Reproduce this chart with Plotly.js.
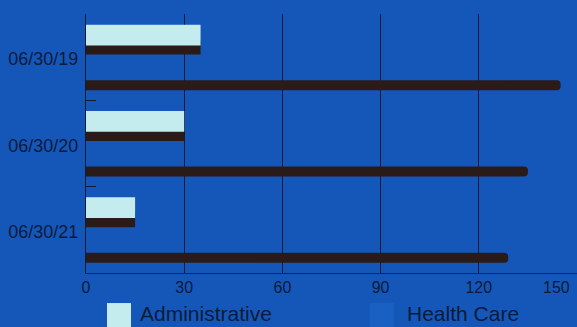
<!DOCTYPE html>
<html>
<head>
<meta charset="utf-8">
<script src="https://cdn.plot.ly/plotly-3.0.1.min.js"></script>
<style>
  html, body { margin: 0; padding: 0; background: #1457b9; }
  #chart { width: 577px; height: 327px; }
</style>
</head>
<body>
<div id="chart"></div>
<script>
// Fiscal year-end dates and amounts for each series
const dates = ['06/30/19', '06/30/20', '06/30/21'];
const administrative = [35, 30, 15];
const healthCare = [145, 135, 129];
const xTicks = [0, 30, 60, 90, 120, 150];
const legendNames = ['Administrative', 'Health Care'];

const BG = '#1457b9';
const INK = '#0d1a3a';
const LIGHT = '#c4ecee';
const DARK = '#2a1b18';

const traces = [
  // dark lower face under each Administrative bar
  {
    type: 'bar', orientation: 'h', y: dates, x: administrative,
    offset: -0.2, width: 0.17,
    marker: { color: DARK, line: { width: 0 } },
    hoverinfo: 'skip', showlegend: false
  },
  {
    type: 'bar', orientation: 'h', name: legendNames[0], y: dates, x: administrative,
    offset: -0.376, width: 0.24,
    marker: { color: LIGHT, line: { width: 0 } },
    showlegend: false
  },
  {
    type: 'bar', orientation: 'h', name: legendNames[1], y: dates, x: healthCare,
    offset: 0.266, width: 0.116,
    marker: { color: DARK, line: { width: 0 }, cornerradius: 4 },
    showlegend: false
  }
];

// the last tick sits on the right edge, so its label is right-aligned to stay inside
const innerTicks = xTicks.slice(0, -1);
const lastTick = xTicks[xTicks.length - 1];

// hand-placed legend row beneath the axis
const legendY0 = -0.116, legendY1 = -0.23;
const swatches = [
  { x0: 0.0428, x1: 0.0916, color: LIGHT },
  { x0: 0.578, x1: 0.627, color: '#1a5fc2' }
];
const legendTextX = [0.106, 0.65];

const annotations = legendNames.map((n, i) => ({
  xref: 'paper', yref: 'paper', x: legendTextX[i], y: -0.158,
  xanchor: 'left', yanchor: 'middle', showarrow: false,
  text: n, font: { size: 21, color: INK }
}));
annotations.push({
  xref: 'x', yref: 'paper', x: lastTick, y: 0, yshift: -4,
  xanchor: 'right', yanchor: 'top', xshift: -5, showarrow: false,
  text: String(lastTick), font: { size: 16, color: INK }
});

const layout = {
  width: 577, height: 327,
  margin: { l: 86, r: 0, t: 14, b: 54 },
  paper_bgcolor: BG, plot_bgcolor: BG,
  barmode: 'overlay',
  font: { family: 'Liberation Sans, Arial, sans-serif', color: INK },
  xaxis: {
    range: [0, lastTick], tickvals: xTicks,
    ticktext: xTicks.map(v => v === lastTick ? '' : String(v)),
    showgrid: true, gridcolor: '#141a30', gridwidth: 1,
    zeroline: false, showline: true, linecolor: '#3a1830', linewidth: 1,
    ticks: '',
    tickfont: { size: 16, color: INK }, fixedrange: true
  },
  yaxis: {
    type: 'category', categoryarray: dates, range: [2.5, -0.5],
    showgrid: false, zeroline: false,
    showline: true, linecolor: '#141a30', linewidth: 1,
    ticks: 'inside', tickson: 'boundaries', ticklen: 10, tickcolor: '#141a30',
    ticklabelstandoff: 3, ticklabelshift: -2,
    tickfont: { size: 18, color: INK }, fixedrange: true
  },
  shapes: swatches.map(s => ({
    type: 'rect', xref: 'paper', yref: 'paper',
    x0: s.x0, x1: s.x1, y0: legendY0, y1: legendY1,
    fillcolor: s.color, line: { width: 0 }, layer: 'above'
  })),
  annotations: annotations
};

Plotly.newPlot('chart', traces, layout, { displayModeBar: false, staticPlot: true });
</script>
</body>
</html>
